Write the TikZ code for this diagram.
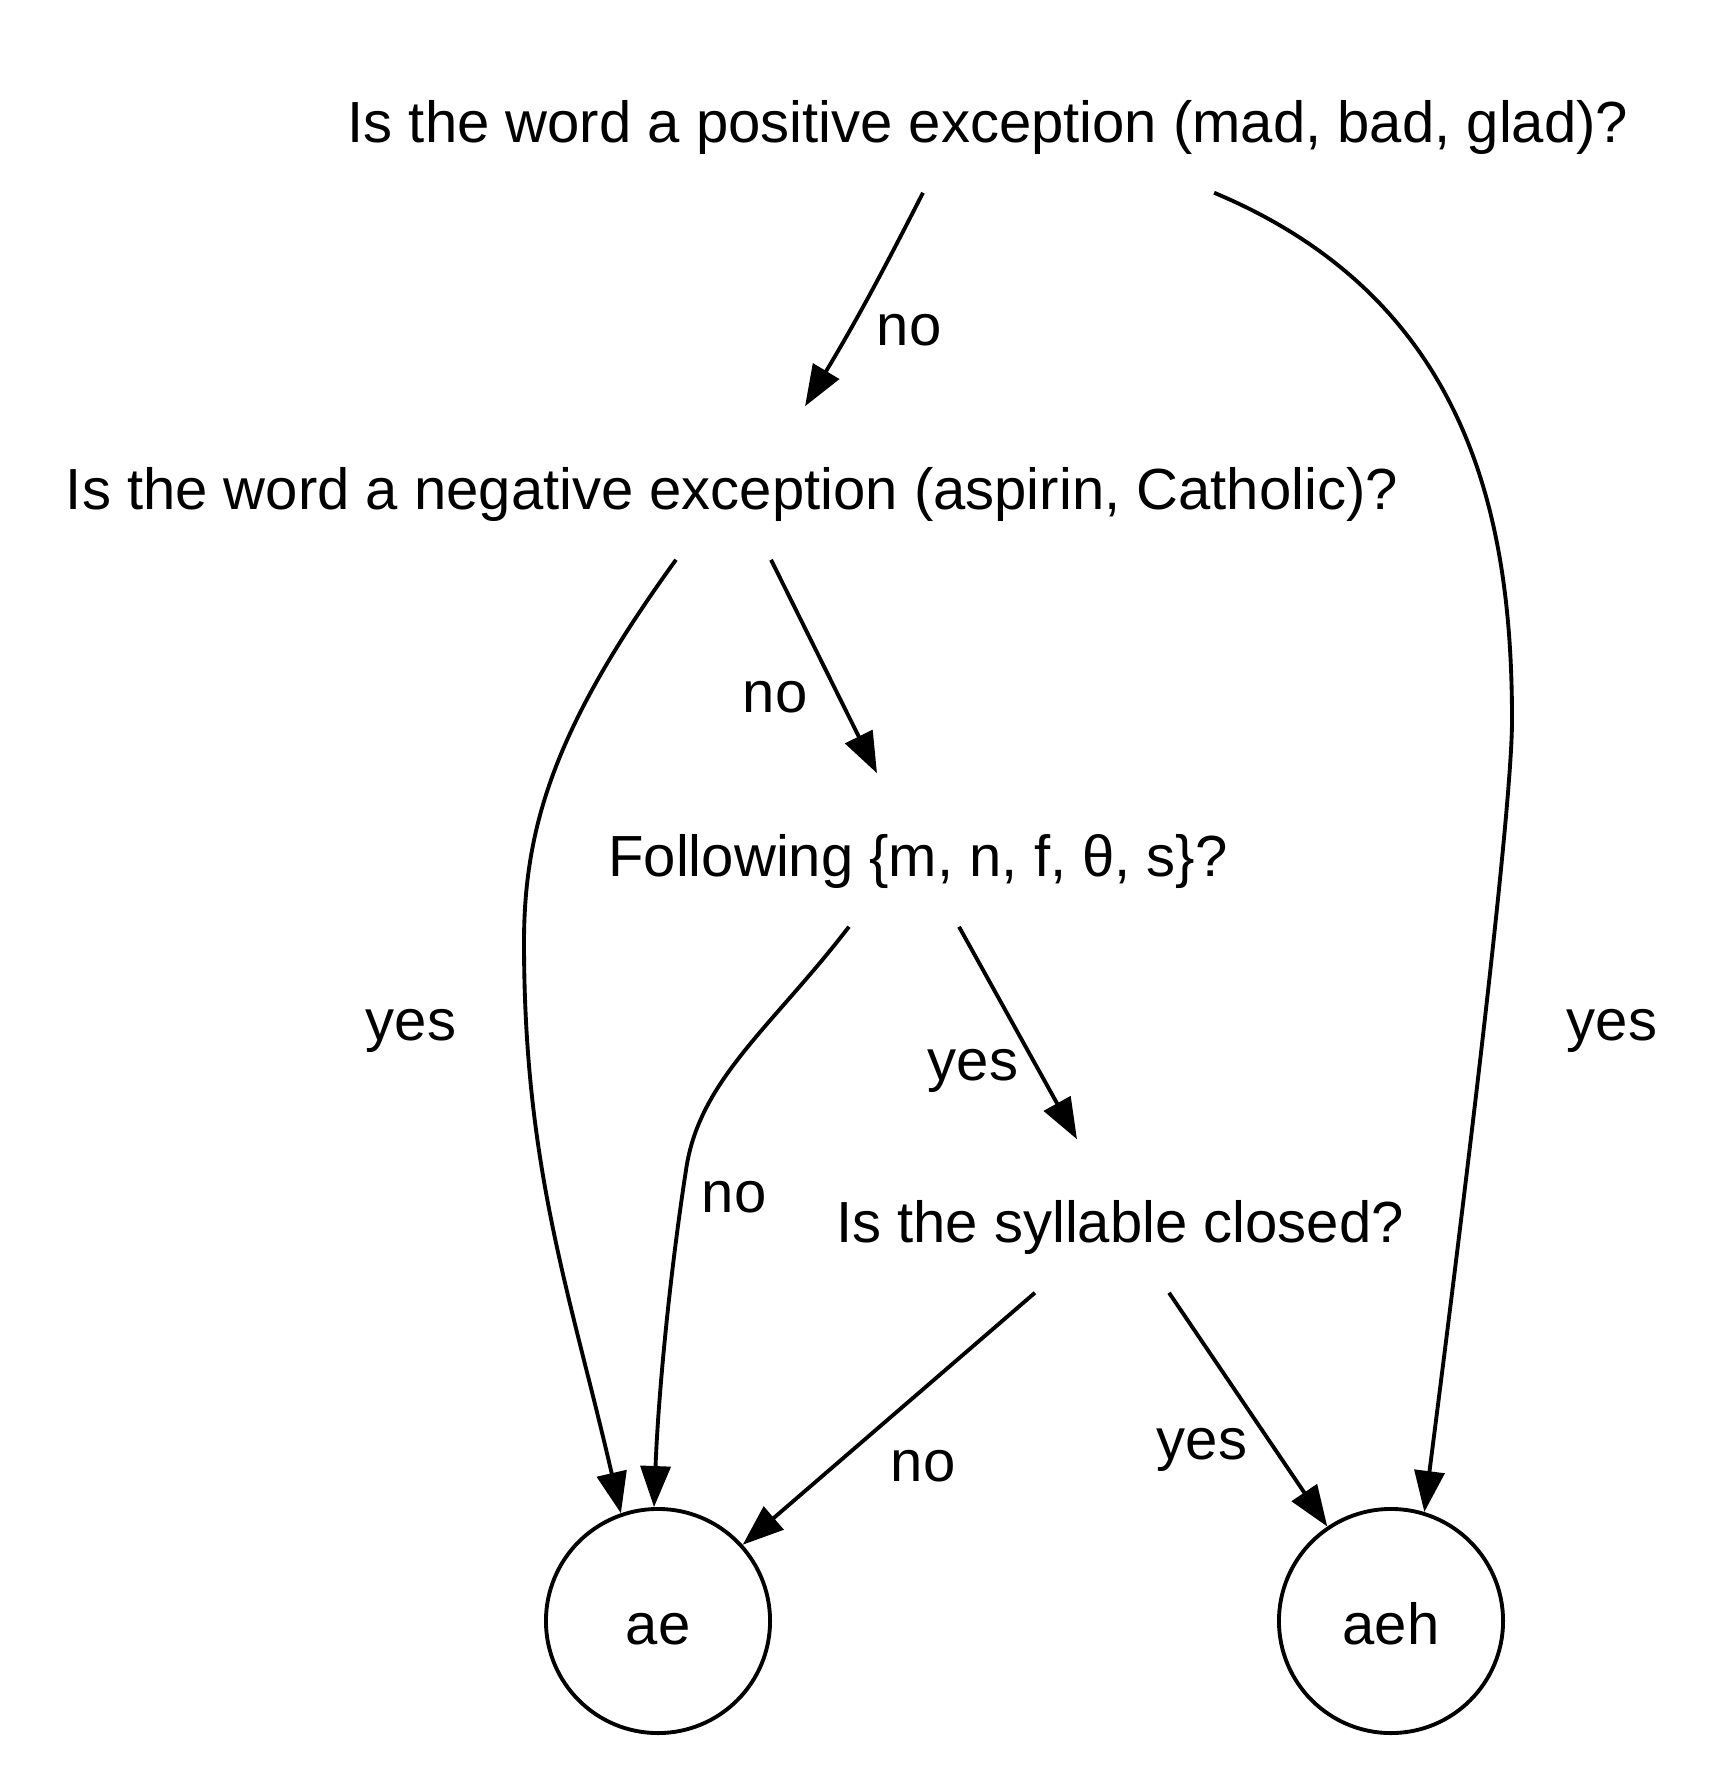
\documentclass[tikz,border=0pt]{standalone}
\usepackage{fontspec}
\setmainfont{Liberation Sans}
\usetikzlibrary{arrows.meta}

\begin{document}
\begin{tikzpicture}[x=0.01cm,y=0.01cm,
    font=\fontsize{16.5}{20}\selectfont,
    question/.style={inner xsep=0.1cm,inner ysep=0.4cm,text height=0.62cm,text depth=0.1cm},
    answer/.style={draw,circle,line width=1.1pt,minimum size=2.24cm,inner sep=0pt,text height=0.46cm,text depth=0pt},
    lbl/.style={inner sep=0pt,text height=0.3cm,text depth=0pt},
    edge/.style={line width=1.1pt,-{Triangle[length=0.41cm,width=0.3cm]}}]
      \useasboundingbox (0,0) rectangle (1716,-1779);
      \path
      (988,-116) node[question](pos) {Is the word a positive exception (mad, bad, glad)?}
      (732,-483) node[question](neg) {Is the word a negative exception (aspirin, Catholic)?}
      (918,-850) node[question](fol) {Following \{m, n, f, θ, s\}?}
      (1120,-1216) node[question](syl) {Is the syllable closed?}
      (658,-1621) node[answer](ae) {ae}
      (1391,-1621) node[answer](aeh) {aeh}
      (909,-330) node[lbl](no1) {no}
      (775,-697) node[lbl](no2) {no}
      (734,-1197) node[lbl](no3) {no}
      (923,-1466) node[lbl](no4) {no}
      (1612,-1025) node[lbl](yes1) {yes}
      (411,-1025) node[lbl](yes2) {yes}
      (973,-1065) node[lbl](yes3) {yes}
      (1202,-1444) node[lbl](yes4) {yes}
      ;

      \draw[edge] ([xshift=-0.65cm]pos.south) to[out=-117,in=59] ([xshift=0.73cm]neg.north);
      \draw[edge] ([xshift=2.26cm]pos.south) .. controls (1470,-300) and (1512,-520) .. (1512,-720)
        .. controls (1512,-830) and (1443,-1365) .. (aeh.73);
      \draw[edge] ([xshift=-0.56cm]neg.south) .. controls (560,-720) and (524,-820) .. (524,-942)
        to[out=-90,in=103] (ae.109);
      \draw[edge] ([xshift=0.39cm]neg.south) -- ([xshift=-0.41cm]fol.north);
      \draw[edge] ([xshift=-0.69cm]fol.south) .. controls (771,-1028) and (699,-1080) .. (686,-1170)
        .. controls (669,-1280) and (658,-1400) .. (ae.92);
      \draw[edge] ([xshift=0.41cm]fol.south) -- ([xshift=-0.43cm]syl.north);
      \draw[edge] ([xshift=-0.85cm]syl.south) -- (ae.42);
      \draw[edge] ([xshift=0.49cm]syl.south) -- (aeh.124);
    \end{tikzpicture}
\end{document}
